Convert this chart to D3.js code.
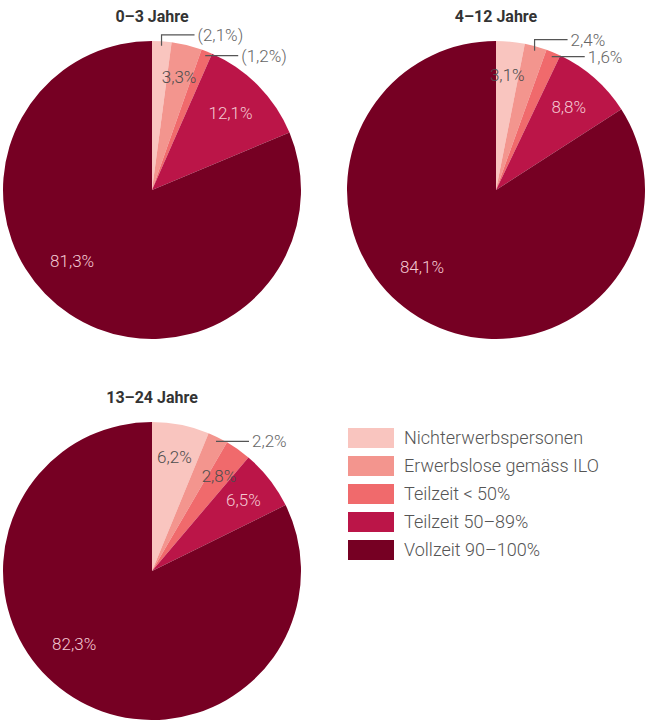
<!DOCTYPE html>
<html>
<head>
<meta charset="utf-8">
<script src="https://cdn.jsdelivr.net/npm/d3@7"></script>
<style>
  body { margin: 0; background: #fff; }
  svg { font-family: Roboto, "Noto Sans", sans-serif; }
</style>
</head>
<body>
<div id="chart"></div>
<script>
// categories and colours
const categories = ["Nichterwerbspersonen", "Erwerbslose gemäss ILO", "Teilzeit < 50%", "Teilzeit 50–89%", "Vollzeit 90–100%"]
const colors = ["#f9c5bf", "#f3958e", "#f06a6c", "#bb1548", "#760023"]

// one pie per age group
const groups = ["0–3 Jahre", "4–12 Jahre", "13–24 Jahre"]
const values0to3 = [2.1, 3.3, 1.2, 12.1, 81.3]
const values4to12 = [3.1, 2.4, 1.6, 8.8, 84.1]
const values13to24 = [6.2, 2.2, 2.8, 6.5, 82.3]
// values shown in brackets (low reliability)
const bracketed0to3 = [true, false, true, false, false]
const bracketed4to12 = [false, false, false, false, false]
const bracketed13to24 = [false, false, false, false, false]
// slices whose label sits outside with a leader line
const outside0to3 = [true, false, true, false, false]
const outside4to12 = [false, true, true, false, false]
const outside13to24 = [false, true, false, false, false]

const pies = [
  { title: groups[0], values: values0to3, bracketed: bracketed0to3, outside: outside0to3, cx: 152, cy: 190 },
  { title: groups[1], values: values4to12, bracketed: bracketed4to12, outside: outside4to12, cx: 496, cy: 190 },
  { title: groups[2], values: values13to24, bracketed: bracketed13to24, outside: outside13to24, cx: 152, cy: 571 }
]

const width = 645
const height = 720
const radius = 149

const svg = d3.select("#chart")
  .append("svg")
    .attr("width", width)
    .attr("height", height)

const color = d3.scaleOrdinal().domain(categories).range(colors)
const fmt = v => d3.format(".1f")(v).replace(".", ",") + "%"

const pie = d3.pie().sort(null).value(d => d.value)
const arc = d3.arc().innerRadius(0).outerRadius(radius)

pies.forEach(p => {
  const data = categories.map((c, i) => ({ name: c, value: p.values[i], i }))
  const arcs = pie(data)
  const g = svg.append("g")
    .attr("transform", `translate(${p.cx},${p.cy})`)

  svg.append("text")
    .attr("x", p.cx)
    .attr("y", p.cy - 168)
    .attr("text-anchor", "middle")
    .style("font-size", "16px")
    .style("font-weight", "bold")
    .attr("fill", "#333")
    .text(p.title)

  g.selectAll("path")
    .data(arcs)
    .join("path")
      .attr("d", arc)
      .attr("fill", d => color(d.data.name))

  // inside labels
  const biggest = d3.max(arcs, d => d.value)
  g.selectAll(".in-label")
    .data(arcs.filter(d => !p.outside[d.data.i]))
    .join("text")
      .attr("class", "in-label")
      .attr("transform", d => {
        const big = d.value === biggest
        const a = d.startAngle + (d.endAngle - d.startAngle) * (big ? 0.55 : 0.5)
        const r = big ? 107 : (d.value < 7 ? 116 : 110)
        return `translate(${r * Math.sin(a)},${-r * Math.cos(a)})`
      })
      .attr("dy", "0.35em")
      .attr("text-anchor", "middle")
      .style("font-size", "17px")
      .style("font-weight", 300)
      .attr("fill", d => d.data.i < 3 ? "#4d4d4d" : "#f4c9d2")
      .text(d => p.bracketed[d.data.i] ? `(${fmt(d.value)})` : fmt(d.value))

  // outside labels with leader lines
  const outs = arcs.filter(d => p.outside[d.data.i])
  outs.forEach((d, k) => {
    const a = (d.startAngle + d.endAngle) / 2
    const r0 = radius * 0.97
    const x0 = r0 * Math.sin(a)
    const y0 = -r0 * Math.cos(a)
    const lifted = outs.length > 1 && k === 0
    const y1 = lifted ? y0 - 11 : y0
    const x1 = x0 + 33
    g.append("path")
      .attr("d", lifted ? `M${x0},${y0}V${y1}H${x1}` : `M${x0},${y0}H${x1}`)
      .attr("fill", "none")
      .attr("stroke", "#555")
      .attr("stroke-width", 1.2)
    g.append("text")
      .attr("x", x1 + 3)
      .attr("y", y1)
      .attr("dy", "0.35em")
      .style("font-size", "17px")
      .style("font-weight", 300)
      .attr("fill", "#666")
      .text(p.bracketed[d.data.i] ? `(${fmt(d.value)})` : fmt(d.value))
  })
})

// legend
const legend = svg.append("g")
  .attr("transform", "translate(348,428)")

const rows = legend.selectAll("g")
  .data(categories)
  .join("g")
    .attr("transform", (d, i) => `translate(0,${i * 28})`)

rows.append("rect")
  .attr("width", 46)
  .attr("height", 20)
  .attr("fill", d => color(d))

rows.append("text")
  .attr("x", 56)
  .attr("y", 10)
  .attr("dy", "0.35em")
  .style("font-size", "18px")
  .style("font-weight", 300)
  .attr("fill", "#555")
  .text(d => d)
</script>
</body>
</html>
